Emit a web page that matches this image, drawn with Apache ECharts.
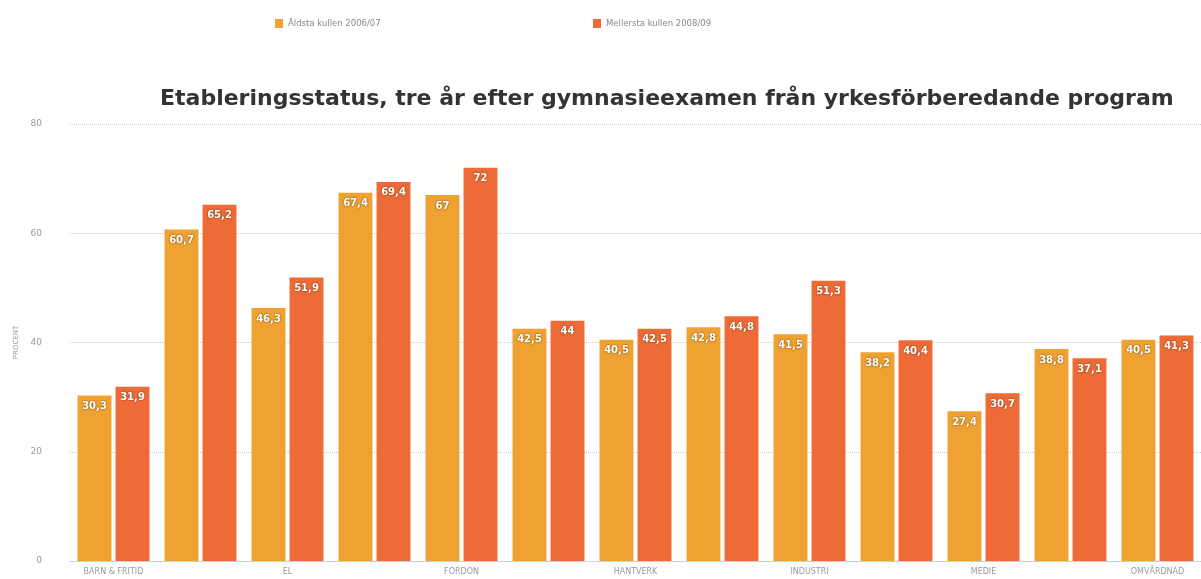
<!DOCTYPE html>
<html><head><meta charset="utf-8">
<script src="https://cdn.jsdelivr.net/npm/echarts@6/dist/echarts.min.js"></script>
<style>html,body{margin:0;padding:0;background:#fff}#c{width:1201px;height:579px}</style>
</head><body><div id="c"></div>
<script>
const categories = ['BARN & FRITID','BYGG','EL','ENERGI','FORDON','HANDEL','HANTVERK','HOTELL','INDUSTRI','LIVSMEDEL','MEDIE','NATURBRUK','OMVÅRDNAD'];
const seriesNames = ['Äldsta kullen 2006/07','Mellersta kullen 2008/09'];
const aldsta = [30.3,60.7,46.3,67.4,67,42.5,40.5,42.8,41.5,38.2,27.4,38.8,40.5];
const mellersta = [31.9,65.2,51.9,69.4,72,44,42.5,44.8,51.3,40.4,30.7,37.1,41.3];
const yTicks = {min:0, max:80, interval:20};

const chart = echarts.init(document.getElementById('c'));
const label = {
  show:true, position:'insideTop', distance:6, color:'#fff', fontSize:10, fontWeight:'bold',
  fontFamily:'DejaVu Sans', textShadowColor:'rgba(60,40,0,0.85)', textShadowBlur:2,
  formatter: p => String(p.value).replace('.', ',')
};
chart.setOption({
  animation:false,
  title:{text:'Etableringsstatus, tre år efter gymnasieexamen från yrkesförberedande program',
    left:155, top:83, textStyle:{fontFamily:'DejaVu Sans', fontSize:22, fontWeight:'bold', color:'#333'}},
  legend:[
    {data:[seriesNames[0]], left:270, top:14, itemWidth:8, itemHeight:9, icon:'rect',
     textStyle:{fontSize:8.5, color:'#888', fontFamily:'DejaVu Sans'}},
    {data:[seriesNames[1]], left:588, top:14, itemWidth:8, itemHeight:9, icon:'rect',
     textStyle:{fontSize:8.5, color:'#888', fontFamily:'DejaVu Sans'}}
  ],
  grid:{left:70, top:124, width:1140, bottom:18, containLabel:false},
  xAxis:{type:'category', data:categories,
    axisLine:{lineStyle:{color:'#c8d0dc'}}, axisTick:{show:false},
    axisLabel:{interval:1, fontSize:8, color:'#999', margin:7, fontFamily:'DejaVu Sans'}},
  yAxis:{type:'value', min:yTicks.min, max:yTicks.max, interval:yTicks.interval,
    name:'PROCENT', nameLocation:'middle', nameGap:50, nameRotate:90,
    nameTextStyle:{fontSize:7, color:'#999', fontFamily:'DejaVu Sans'},
    axisLabel:{fontSize:9, color:'#999', margin:28, fontFamily:'DejaVu Sans'},
    splitLine:{lineStyle:{color:'#ccc', type:'dotted', width:1}}},
  series:[
    {name:seriesNames[0], type:'bar', data:aldsta, itemStyle:{color:'#EFA232'},
     barWidth:'39%', barGap:'12%', label:label},
    {name:seriesNames[1], type:'bar', data:mellersta, itemStyle:{color:'#EE6B38'},
     barWidth:'39%', barGap:'12%', label:label}
  ]
});
</script></body></html>
